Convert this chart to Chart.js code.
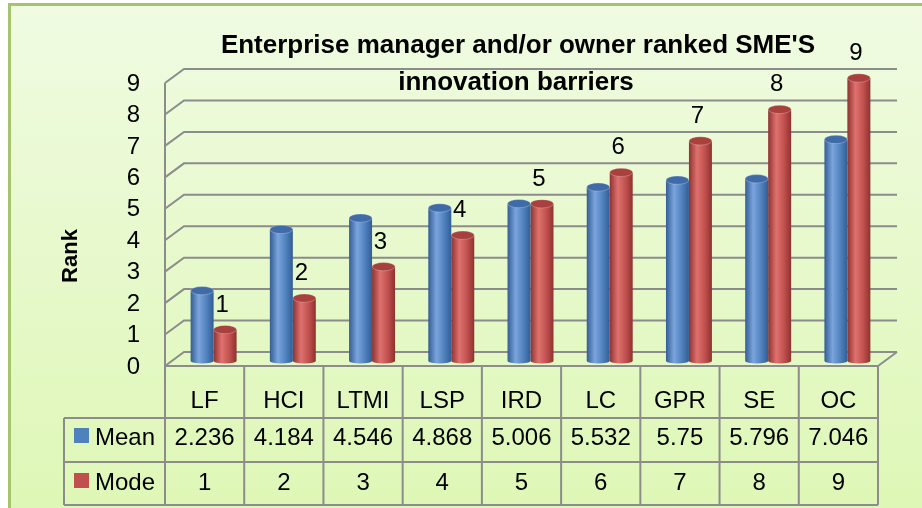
<!DOCTYPE html>
<html>
<head>
<meta charset="utf-8">
<script src="https://cdn.jsdelivr.net/npm/chart.js@4.4.0/dist/chart.umd.min.js"></script>
<style>
  html, body { margin: 0; padding: 0; background: #fff; }
  canvas { display: block; }
</style>
</head>
<body>
<canvas id="grafico" width="922" height="508"></canvas>
<script>
// dados
const categorias = ["LF", "HCI", "LTMI", "LSP", "IRD", "LC", "GPR", "SE", "OC"];
const media = [2.236, 4.184, 4.546, 4.868, 5.006, 5.532, 5.75, 5.796, 7.046];
const moda = [1, 2, 3, 4, 5, 6, 7, 8, 9];
const ticksY = [0, 1, 2, 3, 4, 5, 6, 7, 8, 9];
const series = ["Mean", "Mode"];

const FONTE = "'Liberation Sans', Arial, sans-serif";
const CINZA = "#8c8c8c";
const cores = [
  { base: "#4f81bd", claro: "#7ba4dd", escuro: "#335d94", topo: "#3f6ca8" },
  { base: "#c0504d", claro: "#de716e", escuro: "#8e3230", topo: "#a8403d" }
];

// deslocamentos do "3D": parede da frente e parede do fundo
const FRENTE = { dx: -9, dy: 5 };
const FUNDO = { dx: 10, dy: -9 };

// fundo, grade na parede do fundo e eixo da frente
const pluginFundo = {
  id: "fundo",
  beforeDraw(chart) {
    const c = chart.ctx, a = chart.chartArea, y = chart.scales.y;
    c.save();
    c.fillStyle = "#ffffff";
    c.fillRect(0, 0, chart.width, chart.height);
    const g = c.createLinearGradient(0, 4, 0, chart.height);
    g.addColorStop(0, "#f0fbe2");
    g.addColorStop(1, "#def7b6");
    c.fillStyle = g;
    c.fillRect(9, 4, chart.width, chart.height);
    c.strokeStyle = "#a6c46b";
    c.lineWidth = 3;
    c.beginPath();
    c.moveTo(9.5, chart.height);
    c.lineTo(9.5, 4.5);
    c.lineTo(chart.width, 4.5);
    c.stroke();

    c.strokeStyle = CINZA;
    c.lineWidth = 2;
    const xf = a.left + FRENTE.dx, xb = a.left + FUNDO.dx, xr = a.right + FUNDO.dx;
    ticksY.forEach(v => {
      const py = y.getPixelForValue(v);
      c.beginPath();
      c.moveTo(xf, py + FRENTE.dy);
      c.lineTo(xb, py + FUNDO.dy);
      c.lineTo(xr, py + FUNDO.dy);
      c.stroke();
    });
    // eixo vertical da frente
    c.beginPath();
    c.moveTo(xf, y.getPixelForValue(9) + FRENTE.dy);
    c.lineTo(xf, y.getPixelForValue(0) + FRENTE.dy);
    c.stroke();
    // piso: borda direita
    c.beginPath();
    c.moveTo(a.right + FRENTE.dx, y.getPixelForValue(0) + FRENTE.dy);
    c.lineTo(xr, y.getPixelForValue(0) + FUNDO.dy);
    c.stroke();
    c.restore();
  }
};

function cilindro(c, el, cor) {
  const w = el.width, x0 = el.x - w / 2, topo = el.y, base = el.base;
  const ry = w * 0.18;
  const g = c.createLinearGradient(x0, 0, x0 + w, 0);
  g.addColorStop(0, cor.escuro);
  g.addColorStop(0.35, cor.claro);
  g.addColorStop(0.7, cor.base);
  g.addColorStop(1, cor.escuro);
  c.fillStyle = g;
  c.beginPath();
  c.moveTo(x0, topo);
  c.lineTo(x0, base);
  c.ellipse(el.x, base, w / 2, ry * 0.6, 0, Math.PI, 0, true);
  c.lineTo(x0 + w, topo);
  c.closePath();
  c.fill();
  c.fillStyle = cor.topo;
  c.beginPath();
  c.ellipse(el.x, topo, w / 2, ry, 0, 0, Math.PI * 2);
  c.fill();
  c.strokeStyle = "rgba(255,255,255,0.25)";
  c.lineWidth = 1;
  c.stroke();
}

// barras em forma de cilindro
const pluginCilindros = {
  id: "cilindros",
  beforeDatasetDraw(chart, args) {
    const c = chart.ctx;
    c.save();
    args.meta.data.forEach(el => cilindro(c, el, cores[args.index]));
    c.restore();
    return false;
  }
};

// tabela de dados, título, rótulos
const pluginTabela = {
  id: "tabela",
  afterDraw(chart) {
    const c = chart.ctx, x = chart.scales.x, y = chart.scales.y;
    const colW = x.getPixelForValue(1) - x.getPixelForValue(0);
    const esq = x.getPixelForValue(0) - colW / 2 + FRENTE.dx;
    const dir = x.getPixelForValue(categorias.length - 1) + colW / 2 + FRENTE.dx;
    const t0 = y.getPixelForValue(0) + FRENTE.dy;
    const t1 = t0 + 52, t2 = t1 + 44, t3 = t2 + 43;
    const legEsq = 64;

    c.save();
    c.strokeStyle = CINZA;
    c.lineWidth = 2;
    c.beginPath();
    c.moveTo(esq, t0); c.lineTo(dir, t0);
    c.moveTo(legEsq, t1); c.lineTo(dir, t1);
    c.moveTo(legEsq, t2); c.lineTo(dir, t2);
    c.moveTo(legEsq, t3); c.lineTo(dir, t3);
    c.moveTo(legEsq, t1); c.lineTo(legEsq, t3);
    for (let i = 0; i <= categorias.length; i++) {
      const px = esq + i * colW;
      c.moveTo(px, t0); c.lineTo(px, t3);
    }
    c.stroke();

    c.fillStyle = "#000";
    c.font = "24px " + FONTE;
    c.textAlign = "center";
    c.textBaseline = "alphabetic";
    categorias.forEach((cat, i) => {
      const px = x.getPixelForValue(i) + FRENTE.dx;
      c.fillText(cat, px, t1 - 10);
      c.fillText(String(media[i]), px, t2 - 17);
      c.fillText(String(moda[i]), px, t3 - 15);
    });
    c.textAlign = "left";
    [t1, t2].forEach((top, k) => {
      c.fillStyle = cores[k].base;
      c.fillRect(74, top + 10 + k, 15, 15);
      c.fillStyle = "#000";
      c.fillText(series[k], 95, top + 27 + k);
    });

    // rótulos da série Mode
    c.textAlign = "center";
    chart.getDatasetMeta(1).data.forEach((el, i) => {
      c.fillText(String(moda[i]), el.x - 3, el.y - 18);
    });

    // título
    c.font = "bold 26px " + FONTE;
    c.fillText("Enterprise manager and/or owner ranked SME'S", 518, 53);
    c.fillText("innovation barriers", 516, 90);

    // título do eixo
    c.translate(71, 256);
    c.rotate(-Math.PI / 2);
    c.font = "bold 22px " + FONTE;
    c.textBaseline = "middle";
    c.fillText("Rank", 0, 0);
    c.restore();
  }
};

new Chart(document.getElementById("grafico"), {
  type: "bar",
  data: {
    labels: categorias,
    datasets: [
      { label: series[0], data: media, backgroundColor: cores[0].base },
      { label: series[1], data: moda, backgroundColor: cores[1].base }
    ]
  },
  options: {
    responsive: false,
    animation: false,
    layout: { padding: { left: 74, right: 35, top: 78, bottom: 147 } },
    datasets: { bar: { categoryPercentage: 0.58, barPercentage: 1 } },
    plugins: { legend: { display: false }, title: { display: false }, tooltip: { enabled: false } },
    scales: {
      x: { display: false },
      y: {
        min: 0,
        max: 9,
        afterFit: s => { s.width = 100; },
        afterBuildTicks: s => { s.ticks = ticksY.map(v => ({ value: v })); },
        grid: { display: false, drawTicks: false },
        border: { display: false },
        ticks: {
          autoSkip: false,
          padding: 34,
          labelOffset: 6,
          color: "#000",
          font: { family: FONTE, size: 24 }
        }
      }
    }
  },
  plugins: [pluginFundo, pluginCilindros, pluginTabela]
});
</script>
</body>
</html>
